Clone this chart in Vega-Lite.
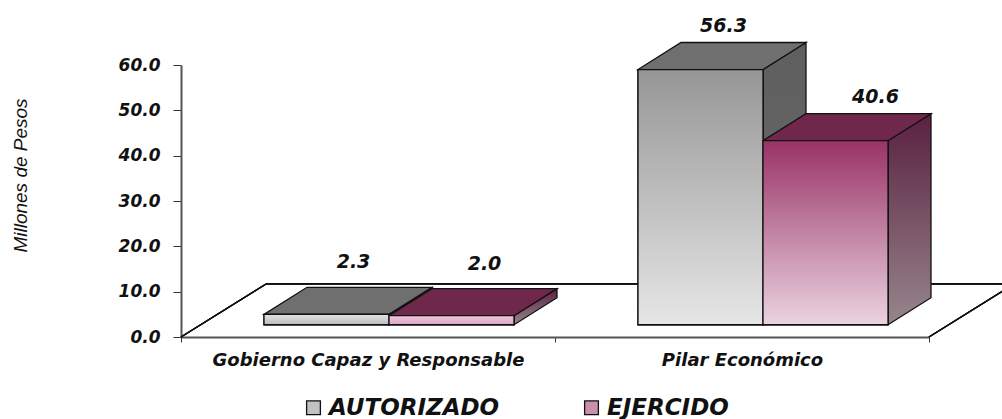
{
"$schema":"https://vega.github.io/schema/vega-lite/v6.json",
"autosize":"none","width":748,"height":272,
"padding":{"left":181,"top":65,"right":73,"bottom":82},
"background":"white",
"config":{"view":{"stroke":null}},
"data":{"values":[
{"categoria":"Gobierno Capaz y Responsable","serie":"AUTORIZADO","valor":2.3},
{"categoria":"Gobierno Capaz y Responsable","serie":"EJERCIDO","valor":2.0},
{"categoria":"Pilar Económico","serie":"AUTORIZADO","valor":56.3},
{"categoria":"Pilar Económico","serie":"EJERCIDO","valor":40.6}
]},
"transform":[
{"calculate":"datum.categoria=='Pilar Económico'","as":"pilar"},
{"calculate":"datum.serie=='AUTORIZADO'","as":"aut"},
{"calculate":"(datum.pilar?457:83)+(datum.aut?0:125)","as":"x0"},
{"calculate":"datum.x0+125","as":"x1"},
{"calculate":"2.7","as":"base"},
{"calculate":"datum.base+datum.valor","as":"top"},
{"calculate":"datum.categoria+datum.serie","as":"barra"}
],
"encoding":{
"x":{"type":"quantitative","scale":{"domain":[0,748],"nice":false,"zero":false}},
"y":{"type":"quantitative","scale":{"domain":[0,60],"nice":false,"zero":false}}
},
"layer":[
{"mark":{"type":"rule","stroke":"#111","strokeWidth":1.3},"encoding":{"x":{"datum":0,"type":"quantitative","axis":{"values":[0,187,374,561,748],"title":null,"grid":false,"domainColor":"#555","domainWidth":2,"tickColor":"#333","tickSize":5,"tickOpacity":{"expr":"datum.value==187||datum.value==561?0:1"},"labelExpr":"datum.value==187?'Gobierno Capaz y Responsable':datum.value==561?'Pilar Económico':''","labelFont":"DejaVu Sans","labelFontWeight":"bold","labelFontStyle":"italic","labelFontSize":18,"labelColor":"#111","labelPadding":9,"labelBaseline":"top","labelOverlap":false,"labelFlush":false,"labelLimit":0}},"x2":{"datum":85},"y":{"datum":0,"type":"quantitative","axis":{"values":[0,10,20,30,40,50,60],"format":".1f","title":"Millones de Pesos","titleFont":"Liberation Sans","titleFontStyle":"italic","titleFontWeight":"normal","titleFontSize":19,"titleColor":"#111","titleAngle":-90,"titleX":-161,"titleY":110,"titleAlign":"center","titleBaseline":"middle","grid":false,"domainColor":"#555","domainWidth":2,"tickColor":"#333","tickSize":8,"labelFont":"DejaVu Sans","labelFontWeight":"bold","labelFontStyle":"italic","labelFontSize":17,"labelColor":"#111","labelPadding":13}},"y2":{"datum":11.7}}},
{"mark":{"type":"rule","stroke":"#111","strokeWidth":1.3},"encoding":{"x":{"datum":85,"type":"quantitative"},"x2":{"datum":833},"y":{"datum":11.7,"type":"quantitative"}}},
{"mark":{"type":"rule","stroke":"#111","strokeWidth":1.3},"encoding":{"x":{"datum":748,"type":"quantitative"},"x2":{"datum":833},"y":{"datum":0,"type":"quantitative"},"y2":{"datum":11.7}}},
{"transform":[{"filter":"datum.aut"},{"calculate":"[0,43]","as":"k"},{"flatten":["k"]},{"calculate":"datum.x1+datum.k","as":"px"},{"calculate":"datum.base+(datum.k>0?5.96:0)","as":"ylo"},{"calculate":"datum.top+(datum.k>0?5.96:0)","as":"yhi"}],
"mark":{"type":"area","stroke":"#111","strokeWidth":1.3,"fill":{"x1":0,"y1":0,"x2":0,"y2":1,"gradient":"linear","stops":[{"offset":0,"color":"#5f5f5f"},{"offset":1,"color":"#6a6a6a"}]}},
"encoding":{"x":{"field":"px","type":"quantitative"},"y":{"field":"ylo","type":"quantitative"},"y2":{"field":"yhi"},"detail":{"field":"barra"}}},
{"transform":[{"filter":"!datum.aut"},{"calculate":"[0,43]","as":"k"},{"flatten":["k"]},{"calculate":"datum.x1+datum.k","as":"px"},{"calculate":"datum.base+(datum.k>0?5.96:0)","as":"ylo"},{"calculate":"datum.top+(datum.k>0?5.96:0)","as":"yhi"}],
"mark":{"type":"area","stroke":"#111","strokeWidth":1.3,"fill":{"x1":0,"y1":0,"x2":0,"y2":1,"gradient":"linear","stops":[{"offset":0,"color":"#5a2040"},{"offset":1,"color":"#96868c"}]}},
"encoding":{"x":{"field":"px","type":"quantitative"},"y":{"field":"ylo","type":"quantitative"},"y2":{"field":"yhi"},"detail":{"field":"barra"}}},
{"transform":[{"calculate":"[0,43,125,168]","as":"k"},{"flatten":["k"]},{"calculate":"datum.x0+datum.k","as":"px"},{"calculate":"datum.top+(datum.k>125?5.96:0)","as":"ylo"},{"calculate":"datum.top+(datum.k>=43?5.96:0)","as":"yhi"}],
"mark":{"type":"area","stroke":"#111","strokeWidth":1.3},
"encoding":{"x":{"field":"px","type":"quantitative"},"y":{"field":"ylo","type":"quantitative"},"y2":{"field":"yhi"},"detail":{"field":"barra"},"fill":{"condition":{"test":"datum.aut","value":"#6f6f6f"},"value":"#6f274b"}}},
{"mark":{"type":"rect","stroke":"#111","strokeWidth":1.3},
"encoding":{"x":{"field":"x0","type":"quantitative"},"x2":{"field":"x1"},"y":{"field":"base","type":"quantitative"},"y2":{"field":"top"},
"color":{"field":"serie","type":"nominal","scale":{"domain":["AUTORIZADO","EJERCIDO"],"range":["#c2c2c2","#c98fac"]},"legend":{"title":null,"orient":"none","legendX":121,"legendY":331,"direction":"horizontal","columns":2,"columnPadding":80,"symbolType":"square","symbolSize":190,"symbolStrokeColor":"#111","symbolStrokeWidth":1.3,"labelFont":"DejaVu Sans","labelFontWeight":"bold","labelFontStyle":"italic","labelFontSize":23,"labelColor":"#111","labelOffset":4,"labelLimit":0,"padding":0}}}},
{"transform":[{"filter":"datum.aut&&datum.pilar"}],"mark":{"type":"rect","stroke":"#111","strokeWidth":1.3,"fill":{"x1":0,"y1":0,"x2":0,"y2":1,"gradient":"linear","stops":[{"offset":0,"color":"#969696"},{"offset":1,"color":"#e6e6e6"}]}},
"encoding":{"x":{"field":"x0","type":"quantitative"},"x2":{"field":"x1"},"y":{"field":"base","type":"quantitative"},"y2":{"field":"top"}}},
{"transform":[{"filter":"datum.aut&&!datum.pilar"}],"mark":{"type":"rect","stroke":"#111","strokeWidth":1.3,"fill":{"x1":0,"y1":0,"x2":0,"y2":1,"gradient":"linear","stops":[{"offset":0,"color":"#e2e2e2"},{"offset":1,"color":"#bcbcbc"}]}},
"encoding":{"x":{"field":"x0","type":"quantitative"},"x2":{"field":"x1"},"y":{"field":"base","type":"quantitative"},"y2":{"field":"top"}}},
{"transform":[{"filter":"!datum.aut&&datum.pilar"}],"mark":{"type":"rect","stroke":"#111","strokeWidth":1.3,"fill":{"x1":0,"y1":0,"x2":0,"y2":1,"gradient":"linear","stops":[{"offset":0,"color":"#993366"},{"offset":1,"color":"#ebd3e0"}]}},
"encoding":{"x":{"field":"x0","type":"quantitative"},"x2":{"field":"x1"},"y":{"field":"base","type":"quantitative"},"y2":{"field":"top"}}},
{"transform":[{"filter":"!datum.aut&&!datum.pilar"}],"mark":{"type":"rect","stroke":"#111","strokeWidth":1.3,"fill":{"x1":0,"y1":0,"x2":0,"y2":1,"gradient":"linear","stops":[{"offset":0,"color":"#eec6da"},{"offset":1,"color":"#dca8c4"}]}},
"encoding":{"x":{"field":"x0","type":"quantitative"},"x2":{"field":"x1"},"y":{"field":"base","type":"quantitative"},"y2":{"field":"top"}}},
{"transform":[{"calculate":"datum.x0+62.5+(datum.pilar?(datum.aut?23:50):(datum.aut?27:33))","as":"lx"},{"calculate":"datum.top+5.96+(datum.valor>10?3.6:5.5)","as":"ly"}],
"mark":{"type":"text","font":"DejaVu Sans","fontWeight":"bold","fontStyle":"italic","fontSize":19,"color":"#111","baseline":"middle","align":"center"},
"encoding":{"x":{"field":"lx","type":"quantitative"},"y":{"field":"ly","type":"quantitative"},"text":{"field":"valor","type":"quantitative","format":".1f"}}}
]
}
